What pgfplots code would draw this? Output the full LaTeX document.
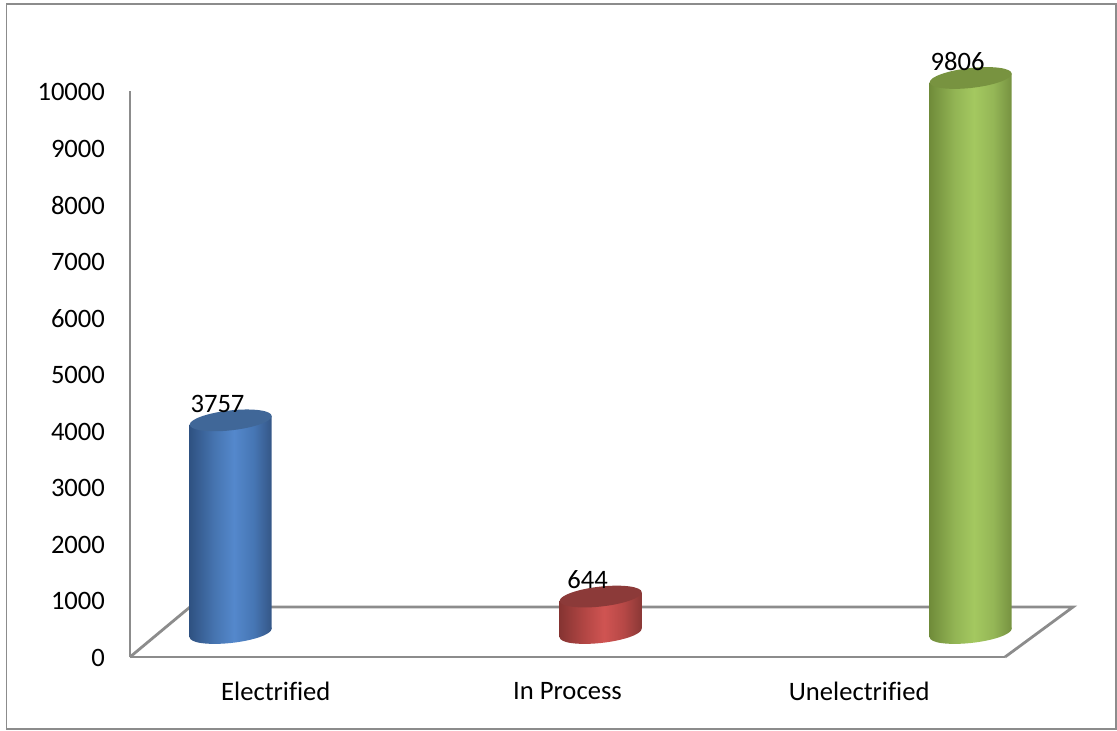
\documentclass[border=0pt]{standalone}
\usepackage{pgfplots}
\usepackage{fontspec}
\setmainfont{Carlito}[Ligatures={NoCommon},Contextuals=NoAlternate]
\pgfplotsset{compat=1.18}

\definecolor{axisgrey}{RGB}{140,140,140}

\definecolor{blueA}{RGB}{47,82,130}
\definecolor{blueB}{RGB}{70,116,176}
\definecolor{blueC}{RGB}{84,136,204}
\definecolor{blueD}{RGB}{70,118,180}
\definecolor{blueE}{RGB}{52,86,134}
\definecolor{blueCap}{RGB}{64,103,152}
\definecolor{redA}{RGB}{134,52,50}
\definecolor{redB}{RGB}{178,70,68}
\definecolor{redC}{RGB}{208,84,82}
\definecolor{redD}{RGB}{182,72,70}
\definecolor{redE}{RGB}{138,56,54}
\definecolor{redCap}{RGB}{140,58,57}
\definecolor{greenA}{RGB}{112,140,58}
\definecolor{greenB}{RGB}{146,180,84}
\definecolor{greenC}{RGB}{164,200,96}
\definecolor{greenD}{RGB}{148,182,86}
\definecolor{greenE}{RGB}{118,146,64}
\definecolor{greenCap}{RGB}{120,147,64}

% Cylinder body shadings: the inner 25bp..75bp span the width of the bar
\pgfdeclarehorizontalshading{cylblue}{100bp}{
  color(0bp)=(blueA); color(25bp)=(blueA); color(40bp)=(blueB);
  color(52bp)=(blueC); color(64bp)=(blueD); color(75bp)=(blueE); color(100bp)=(blueE)}
\pgfdeclarehorizontalshading{cylred}{100bp}{
  color(0bp)=(redA); color(25bp)=(redA); color(40bp)=(redB);
  color(52bp)=(redC); color(64bp)=(redD); color(75bp)=(redE); color(100bp)=(redE)}
\pgfdeclarehorizontalshading{cylgreen}{100bp}{
  color(0bp)=(greenA); color(25bp)=(greenA); color(40bp)=(greenB);
  color(52bp)=(greenC); color(64bp)=(greenD); color(75bp)=(greenE); color(100bp)=(greenE)}

% End caps of the cylinders: ellipses whose long axis rises to the right
\newcommand{\tilt}{0.105}
\newcommand{\capellipse}{\pgfpathellipse{\pgfpointorigin}{\pgfqpoint{20.5pt}{2.15pt}}{\pgfqpoint{0pt}{5pt}}}
\newcommand{\flatcap}[1]{\begin{pgfscope}\pgfsetfillcolor{#1}\capellipse\pgfusepathqfill\end{pgfscope}}
\newcommand{\shadedcap}[1]{\begin{pgfscope}\capellipse\pgfshadepath{#1}{0}\pgfusepath{}\end{pgfscope}}
\pgfdeclareplotmark{capblue}{\flatcap{blueCap}}
\pgfdeclareplotmark{capred}{\flatcap{redCap}}
\pgfdeclareplotmark{capgreen}{\flatcap{greenCap}}
\pgfdeclareplotmark{baseblue}{\shadedcap{cylblue}}
\pgfdeclareplotmark{basered}{\shadedcap{cylred}}
\pgfdeclareplotmark{basegreen}{\shadedcap{cylgreen}}

\pgfplotsset{
  cylinder body/.style n args={2}{ybar,bar width=41pt,bar shift=0pt,draw=none,
    shade,shading=#1,yslant=\tilt,yshift={-\tilt*#2}},
  value label/.style={only marks,mark=#1,nodes near coords,
    every node near coord/.style={anchor=center,xshift=-6.6pt,yshift=8.25pt,
      font=\fontsize{13.3}{15}\selectfont,text=black,inner sep=0pt}},
}

\begin{document}
\begin{tikzpicture}
\useasboundingbox (0,0) rectangle (558.5pt,365pt);
\draw[axisgrey,line width=0.8pt] (3.3pt,0.5pt) rectangle (558pt,363pt);

% Floor and value axis
\begin{axis}[
  at={(65pt,36.5pt)},anchor=south west,
  scale only axis,width=437.5pt,height=283pt,
  xmin=0,xmax=3,ymin=0,ymax=10000,
  clip=false,
  axis x line=bottom,axis y line=left,
  axis line style={-,axisgrey,line width=1.4pt},
  major tick length=0pt,
  xtick={0.5,1.5,2.5},
  xticklabels={Electrified,In Process,Unelectrified},
  ytick={0,1000,...,10000},
  scaled y ticks=false,
  /pgf/number format/1000 sep={},
  /pgf/number format/assume math mode=true,
  tick label style={font=\fontsize{13.3}{15}\selectfont,text=black},
  yticklabel style={anchor=east,xshift=-9pt,yshift=-0.5pt},
  xticklabel style={anchor=center,yshift=-17pt},
]
\addplot[axisgrey,line width=1.4pt] coordinates {(0,0) (0.2057,883) (3.233,883) (3,0)};
\end{axis}

% Cylinders, standing halfway back on the floor
\begin{axis}[
  at={(78.35pt,48.5pt)},anchor=south west,
  scale only axis,width=444pt,height=283pt,
  xmin=-0.2,xmax=2.2,ymin=0,ymax=10000,
  clip=false,hide axis,
  /pgf/number format/1000 sep={},
  /pgf/number format/assume math mode=true,
]
\addplot[only marks,mark=baseblue] coordinates {(0,0)};
\addplot[cylinder body={cylblue}{37pt}] coordinates {(0,3757)};
\addplot[value label=capblue] coordinates {(0,3757)};

\addplot[only marks,mark=basered] coordinates {(1,0)};
\addplot[cylinder body={cylred}{222pt}] coordinates {(1,644)};
\addplot[value label=capred] coordinates {(1,644)};

\addplot[only marks,mark=basegreen] coordinates {(2,0)};
\addplot[cylinder body={cylgreen}{407pt}] coordinates {(2,9806)};
\addplot[value label=capgreen] coordinates {(2,9806)};
\end{axis}
\end{tikzpicture}
\end{document}
